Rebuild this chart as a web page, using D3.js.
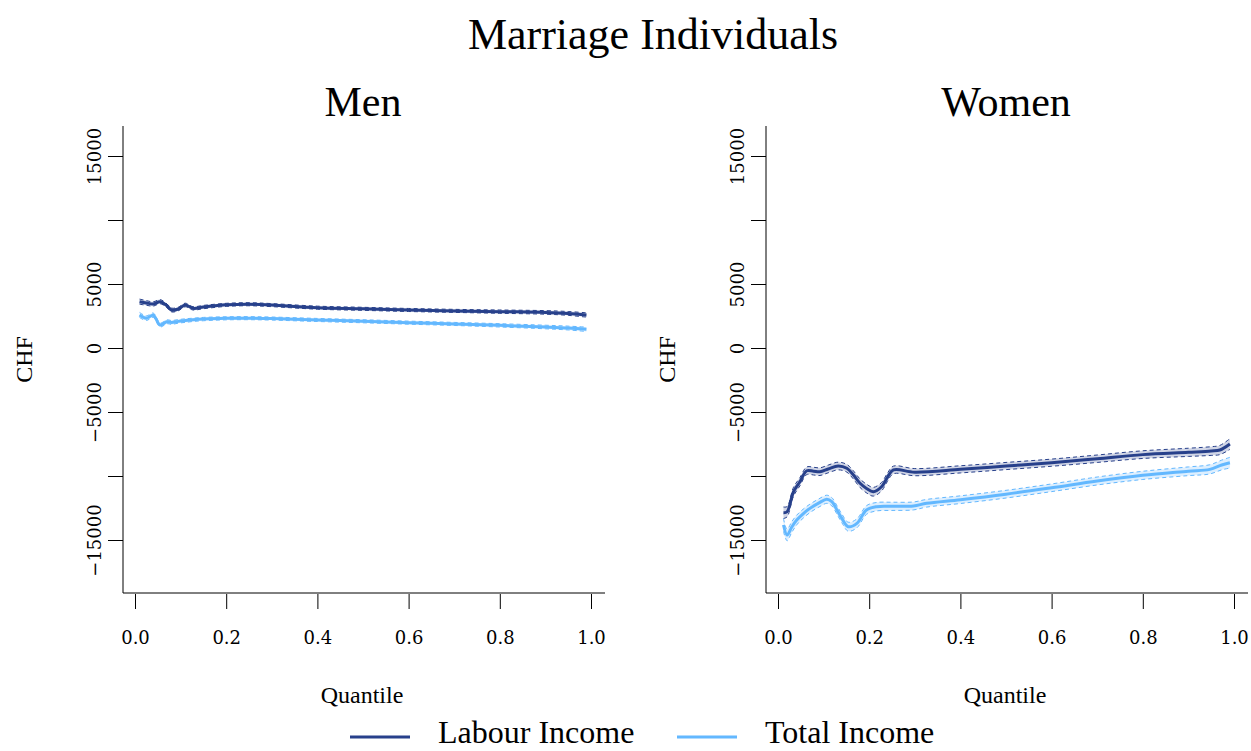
<!DOCTYPE html>
<html>
<head>
<meta charset="utf-8">
<script src="https://cdn.jsdelivr.net/npm/d3@7"></script>
<style>
  html, body { margin: 0; padding: 0; background: #fff; }
  svg { display: block; }
  text { fill: #000; }
</style>
</head>
<body>
<svg id="chart" width="1251" height="751"></svg>
<script>
// ---- data -------------------------------------------------------------
const yTicks = [-15000, -10000, -5000, 0, 5000, 10000, 15000];
const yTickLabels = ["\u221215000", "", "\u22125000", "0", "5000", "", "15000"];
const xTicks = [0, 0.2, 0.4, 0.6, 0.8, 1.0];
const xTickLabels = ["0.0", "0.2", "0.4", "0.6", "0.8", "1.0"];
const seriesNames = ["Labour Income", "Total Income"];

// Men
const menQ = [0.01, 0.025, 0.04, 0.055, 0.07, 0.08, 0.095, 0.11, 0.127, 0.15, 0.2,
              0.25, 0.3, 0.4, 0.5, 0.6, 0.7, 0.8, 0.9, 0.95, 0.99];
const menLabour = [3620, 3520, 3440, 3620, 3300, 2970, 3050, 3360, 3100, 3200, 3370,
                   3420, 3350, 3150, 3060, 2970, 2900, 2840, 2780, 2700, 2580];
const menLabourCI = [200, 180, 170, 160, 150, 150, 140, 140, 130, 130, 120,
                     120, 120, 120, 120, 120, 120, 130, 140, 150, 170];
const menTotal = [2580, 2330, 2560, 1800, 2050, 2000, 2080, 2140, 2200, 2260, 2320,
                  2330, 2300, 2190, 2090, 1980, 1880, 1770, 1640, 1560, 1460];
const menTotalCI = [200, 180, 170, 160, 150, 150, 140, 140, 130, 130, 120,
                    120, 120, 120, 120, 120, 120, 130, 140, 150, 170];

// Women
const womenLabourQ = [0.012, 0.02, 0.034, 0.048, 0.063, 0.078, 0.092, 0.11, 0.132, 0.151,
                      0.165, 0.18, 0.195, 0.209, 0.227, 0.24, 0.253, 0.3, 0.4, 0.5,
                      0.6, 0.7, 0.8, 0.9, 0.95, 0.969, 0.991];
const womenLabour = [-12870, -12790, -11230, -10450, -9590, -9620, -9660, -9450, -9220, -9400,
                     -9900, -10570, -11000, -11230, -10840, -10100, -9530, -9700, -9480, -9220,
                     -8960, -8650, -8330, -8150, -8050, -7970, -7500];
const womenLabourCI = [450, 400, 350, 320, 300, 300, 300, 300, 300, 300,
                       320, 330, 340, 340, 330, 320, 300, 280, 280, 280,
                       280, 290, 300, 320, 340, 360, 420];
const womenTotalQ = [0.012, 0.02, 0.03, 0.041, 0.055, 0.07, 0.09, 0.107, 0.118, 0.13,
                     0.14, 0.154, 0.173, 0.194, 0.216, 0.25, 0.297, 0.326, 0.4, 0.5,
                     0.6, 0.7, 0.8, 0.9, 0.947, 0.973, 0.991];
const womenTotal = [-13830, -14610, -14000, -13440, -12950, -12530, -12100, -11820, -12010, -12700,
                    -13310, -13960, -13700, -12660, -12400, -12370, -12340, -12130, -11850, -11420,
                    -10920, -10390, -9950, -9630, -9480, -9140, -8960];
const womenTotalCI = [500, 450, 420, 380, 350, 330, 320, 320, 320, 330,
                      340, 350, 350, 340, 330, 320, 310, 300, 300, 300,
                      300, 310, 320, 340, 360, 380, 420];

// ---- styling ----------------------------------------------------------
const colors = ["#27408B", "#63B8FF"];
const textFont = "'Liberation Serif', 'Times New Roman', serif";
const tickFont = "'DejaVu Serif', serif";

const svg = d3.select("#chart");

svg.append("text")
  .attr("x", 653).attr("y", 49)
  .attr("text-anchor", "middle")
  .style("font-family", textFont).style("font-size", "44px")
  .text("Marriage Individuals");

function zip(q, v, ci) {
  return q.map((d, i) => ({ q: d, v: v[i], lo: v[i] - ci[i], hi: v[i] + ci[i] }));
}

const panels = [
  { title: "Men", left: 123, series: [zip(menQ, menLabour, menLabourCI), zip(menQ, menTotal, menTotalCI)] },
  { title: "Women", left: 766, series: [zip(womenLabourQ, womenLabour, womenLabourCI), zip(womenTotalQ, womenTotal, womenTotalCI)] }
];

const plotTop = 126, plotBottom = 593, plotWidth = 482;

// y range: 0 at 348, 64 px per 5000
const yScale = d3.scaleLinear()
  .domain([-15000, 15000])
  .range([540, 156]);

panels.forEach(p => {
  const g = svg.append("g");
  const x = d3.scaleLinear().domain([0, 1]).range([p.left + 12, p.left + 468]);

  // panel title
  g.append("text")
    .attr("x", p.left + plotWidth / 2 - 1).attr("y", 116)
    .attr("text-anchor", "middle")
    .style("font-family", textFont).style("font-size", "42px")
    .text(p.title);

  const curve = d3.curveCatmullRom.alpha(0.5);
  p.series.forEach((data, i) => {
    const band = d3.area().x(d => x(d.q)).y0(d => yScale(d.lo)).y1(d => yScale(d.hi)).curve(curve);
    g.append("path").attr("d", band(data))
      .attr("fill", colors[i]).attr("fill-opacity", 0.22);
    ["lo", "hi"].forEach(k => {
      const ln = d3.line().x(d => x(d.q)).y(d => yScale(d[k])).curve(curve);
      g.append("path").attr("d", ln(data))
        .attr("fill", "none").attr("stroke", colors[i])
        .attr("stroke-width", 1).attr("stroke-dasharray", "4,3");
    });
    const mid = d3.line().x(d => x(d.q)).y(d => yScale(d.v)).curve(curve);
    g.append("path").attr("d", mid(data))
      .attr("fill", "none").attr("stroke", colors[i])
      .attr("stroke-width", 3).attr("stroke-linejoin", "round");
  });

  // L-shaped frame
  g.append("path")
    .attr("d", `M${p.left},${plotTop}V${plotBottom}H${p.left + plotWidth}`)
    .attr("fill", "none").attr("stroke", "#000").attr("stroke-width", 1);

  // x axis
  const xAxis = d3.axisBottom(x)
    .tickValues(xTicks)
    .tickSize(15).tickSizeOuter(0).tickPadding(22)
    .tickFormat((d, i) => xTickLabels[i]);
  const xa = g.append("g").attr("transform", `translate(0,${plotBottom + 1})`).call(xAxis);
  xa.select(".domain").remove();
  xa.selectAll("line").attr("stroke", "#000");
  xa.selectAll("text")
    .style("font-family", tickFont).style("font-size", "18px").attr("fill", "#000");

  // y axis
  const yAxis = d3.axisLeft(yScale)
    .tickValues(yTicks)
    .tickSize(15).tickSizeOuter(0)
    .tickFormat((d, i) => yTickLabels[i]);
  const ya = g.append("g").attr("transform", `translate(${p.left},0)`).call(yAxis);
  ya.select(".domain").remove();
  ya.selectAll("line").attr("stroke", "#000");
  ya.selectAll("text")
    .attr("x", null).attr("dy", null)
    .attr("text-anchor", "middle")
    .attr("transform", "translate(-22,0) rotate(-90)")
    .style("font-family", tickFont).style("font-size", "18px").attr("fill", "#000");

  // axis titles
  g.append("text")
    .attr("x", p.left + plotWidth / 2 - 2).attr("y", 703)
    .attr("text-anchor", "middle")
    .style("font-family", textFont).style("font-size", "24px")
    .text("Quantile");
  g.append("text")
    .attr("transform", `translate(${p.left - 91},${(plotTop + plotBottom) / 2}) rotate(-90)`)
    .attr("text-anchor", "middle")
    .style("font-family", textFont).style("font-size", "24px")
    .text("CHF");
});

// legend
const legend = svg.append("g");
const legendItems = [
  { x1: 350, x2: 410, tx: 438 },
  { x1: 677, x2: 737, tx: 765 }
];
legendItems.forEach((it, i) => {
  legend.append("line")
    .attr("x1", it.x1).attr("x2", it.x2).attr("y1", 737).attr("y2", 737)
    .attr("stroke", colors[i]).attr("stroke-width", 3);
  legend.append("text")
    .attr("x", it.tx).attr("y", 743)
    .style("font-family", textFont).style("font-size", "32px")
    .text(seriesNames[i]);
});
</script>
</body>
</html>
